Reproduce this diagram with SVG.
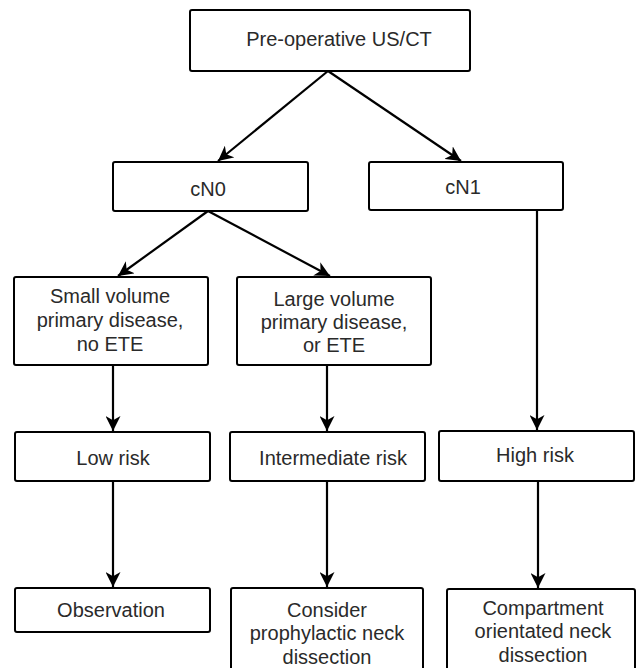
<svg xmlns="http://www.w3.org/2000/svg" width="636" height="668" viewBox="0 0 636 668">
<defs>
<style>
.box{fill:#fff;stroke:#000;stroke-width:2}
.t{font-family:"Liberation Sans",Arial,sans-serif;font-size:20px;fill:#2a2a2a;text-anchor:middle}
.c{stroke:#000;stroke-width:2.2;fill:none;marker-end:url(#ah)}
</style>
<marker id="ah" viewBox="0 0 14 14" refX="14" refY="7" markerWidth="15" markerHeight="15" markerUnits="userSpaceOnUse" orient="auto">
<path d="M0,0 L14,7 L0,14 L4,7 z" fill="#000"/>
</marker>
</defs>
<rect width="636" height="668" fill="#fff"/>
<g id="connectors">
<line class="c" x1="328" y1="71" x2="218" y2="161"/>
<line class="c" x1="328" y1="71" x2="461" y2="161"/>
<line class="c" x1="208" y1="211" x2="118" y2="276"/>
<line class="c" x1="208" y1="211" x2="330" y2="276"/>
<line class="c" x1="537" y1="210" x2="537" y2="430"/>
<line class="c" x1="113" y1="365" x2="113" y2="431"/>
<line class="c" x1="327" y1="365" x2="327" y2="431"/>
<line class="c" x1="113" y1="481" x2="113" y2="587"/>
<line class="c" x1="327" y1="481" x2="327" y2="587"/>
<line class="c" x1="538" y1="481" x2="538" y2="588"/>
</g>
<g id="preop"><rect class="box" x="190" y="10" width="280" height="61" rx="2"/><text class="t" x="339" y="46">Pre-operative US/CT</text></g>
<g id="cn0"><rect class="box" x="113" y="162" width="195" height="49" rx="2"/><text class="t" x="208" y="196">cN0</text></g>
<g id="cn1"><rect class="box" x="369" y="162" width="194" height="48" rx="2"/><text class="t" x="463" y="194">cN1</text></g>
<g id="small"><rect class="box" x="14" y="277" width="194" height="88" rx="2"/><text class="t" x="110" y="303">Small volume</text><text class="t" x="110" y="327">primary disease,</text><text class="t" x="110" y="351">no ETE</text></g>
<g id="large"><rect class="box" x="237" y="277" width="194" height="88" rx="2"/><text class="t" x="334" y="306">Large volume</text><text class="t" x="334" y="329">primary disease,</text><text class="t" x="334" y="352">or ETE</text></g>
<g id="low"><rect class="box" x="15" y="432" width="195" height="49" rx="2"/><text class="t" x="113" y="465">Low risk</text></g>
<g id="intermediate"><rect class="box" x="230" y="432" width="195" height="49" rx="2"/><text class="t" x="333" y="465">Intermediate risk</text></g>
<g id="high"><rect class="box" x="439" y="431" width="195" height="50" rx="2"/><text class="t" x="535" y="462">High risk</text></g>
<g id="observation"><rect class="box" x="15" y="588" width="195" height="44" rx="2"/><text class="t" x="111" y="617">Observation</text></g>
<g id="consider"><rect class="box" x="231" y="588" width="192" height="100" rx="2"/><text class="t" x="327" y="617">Consider</text><text class="t" x="327" y="640">prophylactic neck</text><text class="t" x="327" y="664">dissection</text></g>
<g id="compartment"><rect class="box" x="447" y="589" width="188" height="100" rx="2"/><text class="t" x="543" y="615">Compartment</text><text class="t" x="543" y="638">orientated neck</text><text class="t" x="543" y="662">dissection</text></g>
</svg>
